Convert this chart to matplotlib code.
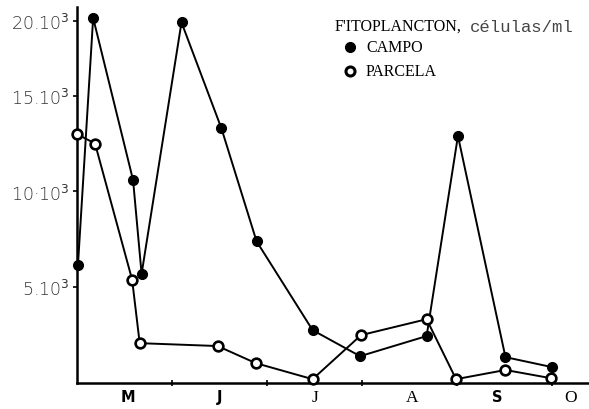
import numpy as np
import matplotlib
matplotlib.use("Agg")
import matplotlib.pyplot as plt
from matplotlib.lines import Line2D

# Months since 1 May (tick = month boundary)
campo_x = [0.01, 0.17, 0.59, 0.68, 1.10, 1.52, 1.89, 2.48, 2.98, 3.68, 4.01, 4.51, 5.00]
campo_y = [6150, 20200, 10600, 5700, 19900, 13300, 7400, 2760, 1400, 2450, 12900, 1350, 830]
parcela_x = [0.00, 0.19, 0.58, 0.66, 1.48, 1.88, 2.48, 2.99, 3.68, 3.99, 4.51, 4.99]
parcela_y = [13000, 12500, 5400, 2080, 1930, 1040, 200, 2500, 3330, 200, 680, 250]
month_labels = ["M", "J", "J", "A", "S", "O"]
ytick_vals = [5000, 10000, 15000, 20000]
ytick_labels = ["5.10$^3$", "10·10$^3$", "15.10$^3$", "20.10$^3$"]

# hand-drawn axis: 15-20k segment is compressed
_src = [-1e6, 0, 15000, 20000, 1e6]
_dst = [-1e6, 0, 15000, 18906, 18906 + (1e6 - 20000) * 0.781]
fwd = lambda v: np.interp(v, _src, _dst)
inv = lambda v: np.interp(v, _dst, _src)

fig = plt.figure(figsize=(5.89, 4.10), dpi=100)
ax = fig.add_axes([77/589, 26/410, (589-77)/589, (384-8)/410])
ax.set_yscale("function", functions=(fwd, inv))
ax.set_xlim(0, (589-77)/95)
ax.set_ylim(0, 20930)

for s in ["top", "right"]:
    ax.spines[s].set_visible(False)
for s in ["left", "bottom"]:
    ax.spines[s].set_linewidth(1.8)

ax.plot(campo_x, campo_y, "-o", color="black", lw=1.4, ms=7, mfc="black", mec="black", clip_on=False, zorder=3)
ax.plot(parcela_x, parcela_y, "-o", color="black", lw=1.4, ms=7, mfc="white", mec="black", mew=1.9, clip_on=False, zorder=4)

ax.set_yticks(ytick_vals)
ax.set_yticklabels(ytick_labels, fontsize=12.5, family="DejaVu Sans", weight="light", color="#333333")
ax.tick_params(axis="y", direction="out", length=3, width=1.2, pad=2)
ax.set_xticks([1, 2, 3, 4, 5])
ax.set_xticklabels([])
ax.tick_params(axis="x", direction="inout", length=4, width=1.2)
ax.yaxis.set_minor_locator(plt.NullLocator())

label_px = [128, 220, 315, 412, 497, 571]
styles = [("DejaVu Sans", "bold", 10.5), ("DejaVu Sans", "bold", 10.5), ("Liberation Serif", "normal", 12.5),
          ("Liberation Serif", "normal", 12.5), ("DejaVu Sans", "bold", 10.5), ("Liberation Serif", "normal", 12.5)]
for lab, px, (fam, w, fs) in zip(month_labels, label_px, styles):
    fig.text(px/589, 1 - 398/410, lab, ha="center", va="center", fontsize=fs, family=fam, weight=w)

fig.text(335/589, 1 - 27/410, "F'ITOPLANCTON,", ha="left", va="center", fontsize=11.5, family="Liberation Serif")
fig.text(470/589, 1 - 27/410, "células/ml", ha="left", va="center", fontsize=12.5, family="Liberation Mono", color="#444444")
fig.add_artist(Line2D([350/589], [1 - 48/410], marker="o", ms=7, mfc="black", mec="black", ls="none", transform=fig.transFigure))
fig.add_artist(Line2D([350/589], [1 - 72/410], marker="o", ms=6.5, mfc="white", mec="black", mew=2.2, ls="none", transform=fig.transFigure))
fig.text(366/589, 1 - 48/410, "CAMPO", ha="left", va="center", fontsize=11.5, family="Liberation Serif")
fig.text(366/589, 1 - 72/410, "PARCELA", ha="left", va="center", fontsize=11.5, family="Liberation Serif")

fig.savefig("out.png", dpi=100)
